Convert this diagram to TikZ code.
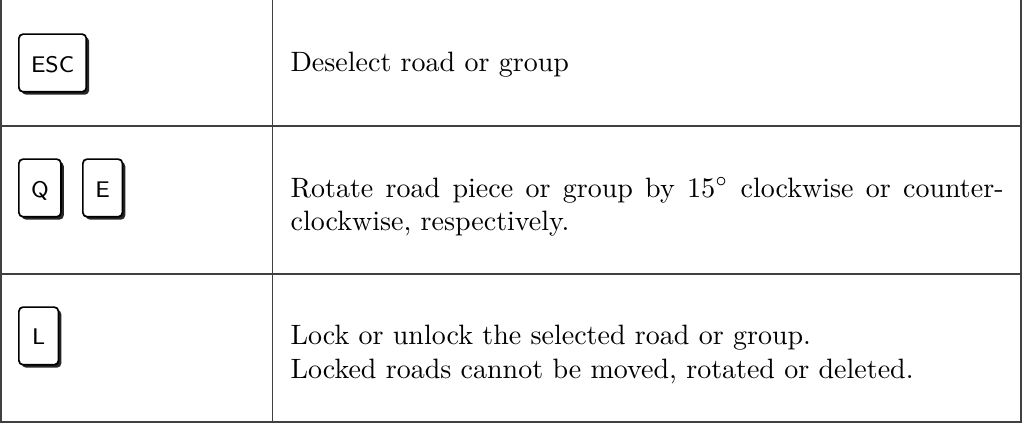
\documentclass[tikz,border=0pt]{standalone}
\usetikzlibrary{shadows}
\tikzset{keycap/.style={draw,fill=white,rounded corners=1.5pt,line width=0.6pt,
           font=\sffamily\footnotesize,text height=6.4pt,text depth=0pt,
           inner xsep=4.3pt,inner ysep=7pt,minimum width=14pt,anchor=base west,
           drop shadow={shadow xshift=1pt,shadow yshift=-1pt,fill=black,opacity=0.85}},
         keytext/.style={text width=8.86cm,align=justify,inner sep=0pt,anchor=base west,
           font=\fontsize{9.9pt}{11.9pt}\selectfont},
         rule/.style={draw=black!75,line width=0.4pt}}
\begin{document}
\begin{tikzpicture}
        \useasboundingbox (0,0) rectangle (12.70,-5.269);
        % table rules
        \draw[rule] (0.012,0.005) rectangle (12.688,-5.244);
        \draw[rule] (3.39,0) -- (3.39,-5.244);
        \draw[rule] (0.012,-1.566) -- (12.688,-1.566);
        \draw[rule] (0.012,-3.405) -- (12.688,-3.405);

        \node[keycap](esc)at(0.224,-0.895){ESC};
        \node[keycap](q)at(0.224,-2.448){Q};
        \node[keycap](e)at(1.019,-2.448){E};
        \node[keycap](l)at(0.224,-4.287){L};

        \node[keytext](deselect)at(3.604,-0.89){Deselect road or group};
        \node[keytext](rotate)at(3.604,-2.448){Rotate road piece or group by $15^\circ$ clockwise or counter-clockwise, respectively.};
        \node[keytext](lock)at(3.604,-4.287){Lock or unlock the selected road or group.\\ Locked roads cannot be moved, rotated or deleted.};
    \end{tikzpicture}
\end{document}
